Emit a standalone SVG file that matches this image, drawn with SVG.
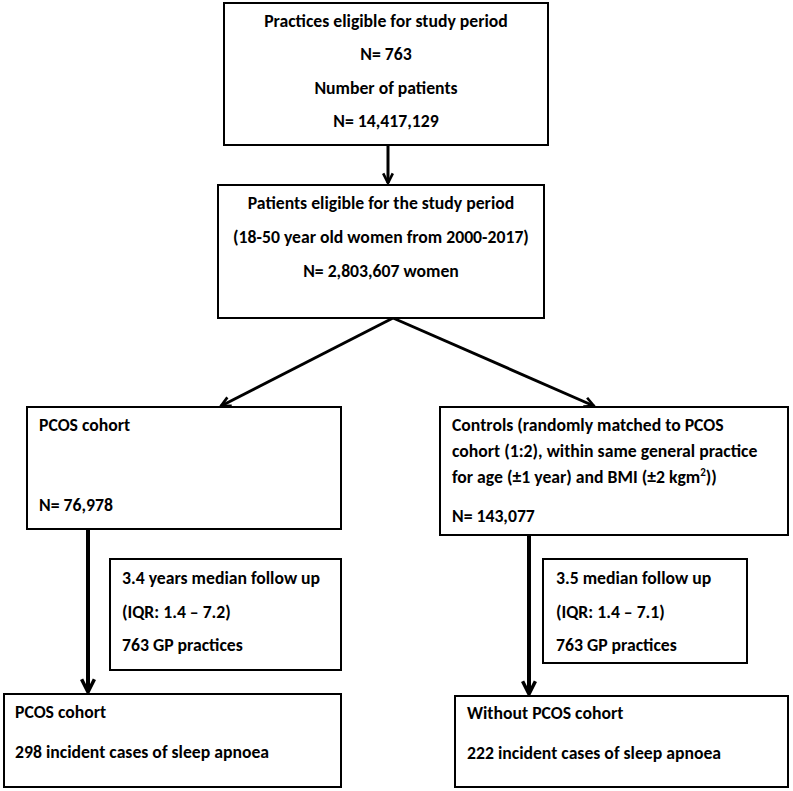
<svg xmlns="http://www.w3.org/2000/svg" width="793" height="791" viewBox="0 0 793 791">
<style>
.box{fill:#fff;stroke:#000;stroke-width:2}
.t{font-family:Carlito,Lato,"Liberation Sans",sans-serif;font-weight:bold;font-size:17.7px;fill:#000}
.c{text-anchor:middle}
.ar{stroke:#000;fill:none}
</style>
<defs>
<marker id="ah" viewBox="0 0 10 10" refX="9" refY="5" markerWidth="4" markerHeight="4" orient="auto" markerUnits="strokeWidth">
<path d="M1,1 L9,5 L1,9" fill="none" stroke="#000" stroke-width="2.2"/>
</marker>
</defs>
<rect width="793" height="791" fill="#fff"/>
<g id="connectors">
<line class="ar" x1="388" y1="145" x2="388" y2="183" stroke-width="3" marker-end="url(#ah)"/>
<line class="ar" x1="393" y1="318" x2="221" y2="406" stroke-width="3" marker-end="url(#ah)"/>
<line class="ar" x1="393" y1="318" x2="594" y2="406" stroke-width="3" marker-end="url(#ah)"/>
<line class="ar" x1="88" y1="529" x2="88" y2="692" stroke-width="4" marker-end="url(#ah)"/>
<line class="ar" x1="529" y1="535" x2="529" y2="694" stroke-width="4" marker-end="url(#ah)"/>
</g>
<g id="practices">
<rect class="box" x="224" y="3" width="324" height="142"/>
<text class="t c" x="386" y="27">Practices eligible for study period</text>
<text class="t c" x="386" y="60">N= 763</text>
<text class="t c" x="386" y="94">Number of patients</text>
<text class="t c" x="386" y="127">N= 14,417,129</text>
</g>
<g id="patients">
<rect class="box" x="218" y="185" width="326" height="133"/>
<text class="t c" x="381" y="209">Patients eligible for the study period</text>
<text class="t c" x="381" y="243">(18-50 year old women from 2000-2017)</text>
<text class="t c" x="381" y="277">N= 2,803,607 women</text>
</g>
<g id="pcos">
<rect class="box" x="27" y="407" width="314" height="122"/>
<text class="t" x="39" y="431">PCOS cohort</text>
<text class="t" x="39" y="511">N= 76,978</text>
</g>
<g id="controls">
<rect class="box" x="440" y="407" width="348" height="128"/>
<text class="t" x="452" y="431">Controls (randomly matched to PCOS</text>
<text class="t" x="452" y="457">cohort (1:2), within same general practice</text>
<text class="t" x="452" y="483">for age (±1 year) and BMI (±2 kgm<tspan font-size="11" dy="-7">2</tspan><tspan dy="7">))</tspan></text>
<text class="t" x="452" y="522">N= 143,077</text>
</g>
<g id="followup-pcos">
<rect class="box" x="110" y="559" width="231" height="111"/>
<text class="t" x="122" y="584">3.4 years median follow up</text>
<text class="t" x="122" y="618">(IQR: 1.4 – 7.2)</text>
<text class="t" x="122" y="651">763 GP practices</text>
</g>
<g id="followup-controls">
<rect class="box" x="543" y="559" width="204" height="104"/>
<text class="t" x="556" y="584">3.5 median follow up</text>
<text class="t" x="556" y="618">(IQR: 1.4 – 7.1)</text>
<text class="t" x="556" y="651">763 GP practices</text>
</g>
<g id="outcome-pcos">
<rect class="box" x="4" y="694" width="337" height="93"/>
<text class="t" x="15" y="718">PCOS cohort</text>
<text class="t" x="15" y="758">298 incident cases of sleep apnoea</text>
</g>
<g id="outcome-controls">
<rect class="box" x="455" y="696" width="333" height="91"/>
<text class="t" x="467" y="719">Without PCOS cohort</text>
<text class="t" x="467" y="759">222 incident cases of sleep apnoea</text>
</g>
</svg>
